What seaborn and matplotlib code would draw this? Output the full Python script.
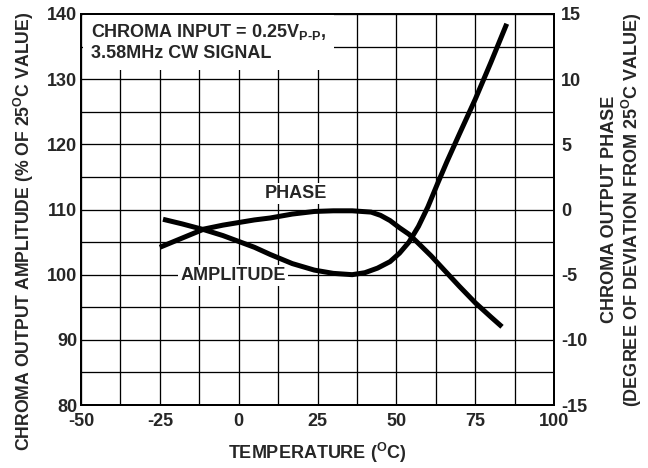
import numpy as np
import pandas as pd
import matplotlib
matplotlib.use("Agg")
import matplotlib.pyplot as plt
import seaborn as sns

# 데이터
amp_temp = [-24, -18, -11, -5, 0, 5, 10, 17, 24, 30, 36, 40, 44, 48, 51, 54, 57, 60, 63, 66,
            70, 75, 80, 85]
amp_value = [108.5, 107.8, 106.9, 106.0, 105.1, 104.2, 103.1, 101.7, 100.7, 100.2, 100.0,
             100.3, 101.0, 102.0, 103.3, 105.0, 107.4, 110.4, 113.9, 117.3,
             121.6, 126.9, 132.6, 138.5]

phase_temp = [-25, -18, -11, -5, 0, 5, 10, 17, 24, 30, 36, 42, 45, 48, 51, 54, 57, 61,
              65, 70, 75, 80, 83.5]
phase_value = [-2.9, -2.2, -1.5, -1.2, -1.0, -0.8, -0.65, -0.35, -0.15, -0.1, -0.1,
               -0.2, -0.45, -0.85, -1.4, -1.9, -2.6, -3.55,
               -4.6, -5.9, -7.15, -8.25, -9.0]

x_ticks = [-50, -25, 0, 25, 50, 75, 100]
left_ticks = [80, 90, 100, 110, 120, 130, 140]
right_ticks = [-15, -10, -5, 0, 5, 10, 15]

df_amp = pd.DataFrame({"temp": amp_temp, "value": amp_value})
df_phase = pd.DataFrame({"temp": phase_temp, "value": phase_value})

sns.set_style("white")
plt.rcParams['font.family'] = ['Liberation Sans', 'DejaVu Sans']
plt.rcParams['font.weight'] = 'bold'
plt.rcParams['axes.unicode_minus'] = False
plt.rcParams['mathtext.fontset'] = 'custom'
plt.rcParams['mathtext.rm'] = 'Liberation Sans:bold'
plt.rcParams['mathtext.bf'] = 'Liberation Sans:bold'
plt.rcParams['mathtext.it'] = 'Liberation Sans:bold'

fs = 18
fig = plt.figure(figsize=(9, 6.5), dpi=72)
ax = fig.add_axes([0.125, 0.1346, 0.73, 0.8355])
ax2 = ax.twinx()

# 그리드
ax.set_xlim(-50, 100)
ax.set_ylim(80, 140)
ax.set_xticks(np.arange(-50, 100.1, 12.5), minor=True)
ax.set_yticks(np.arange(80, 140.1, 5), minor=True)
ax.set_xticks(x_ticks)
ax.set_yticks(left_ticks)
ax.grid(which='both', color='black', linewidth=1.3)
ax.tick_params(which='both', length=0, labelsize=fs)
ax.tick_params(axis='x', pad=8)
ax.tick_params(axis='y', pad=4)
ax.set_axisbelow(True)

sns.lineplot(data=df_amp, x="temp", y="value", ax=ax, color='black', linewidth=5,
             solid_capstyle='butt', zorder=5)

ax2.set_ylim(-15, 15)
ax2.set_yticks(right_ticks)
ax2.tick_params(length=0, labelsize=fs, pad=7)
sns.lineplot(data=df_phase, x="temp", y="value", ax=ax2, color='black', linewidth=5,
             solid_capstyle='butt', zorder=5)

for a in (ax, ax2):
    for s in a.spines.values():
        s.set_color('black')
        s.set_linewidth(2)
    for lab in a.get_xticklabels() + a.get_yticklabels():
        lab.set_fontweight('bold')

ax.set_xlabel(r"TEMPERATURE ($^{\mathrm{O}}$C)", fontsize=fs, fontweight='bold', labelpad=11)
ax.set_ylabel(r"CHROMA OUTPUT AMPLITUDE (% OF 25$^{\mathrm{O}}$C VALUE)", fontsize=17.6,
              fontweight='bold', labelpad=11)
ax.yaxis.label.set_y(0.445)
ax2.set_ylabel("CHROMA OUTPUT PHASE\n" + r"(DEGREE OF DEVIATION FROM 25$^{\mathrm{O}}$C VALUE)",
               fontsize=fs, fontweight='bold', labelpad=14, rotation=90, linespacing=1.1)

# 라벨
bbox = dict(facecolor='white', edgecolor='none', pad=2)
ax.text(18, 112.5, "PHASE", fontsize=fs, fontweight='bold', ha='center', va='center',
        bbox=bbox, zorder=3)
ax.text(-1.8, 99.8, "AMPLITUDE", fontsize=fs, fontweight='bold', ha='center', va='center',
        bbox=bbox, zorder=3)
ax.text(-46.8, 138.8, r"CHROMA INPUT = 0.25V$_{\mathrm{P\text{-}P}}$," + "\n3.58MHz CW SIGNAL",
        fontsize=fs, fontweight='bold', ha='left', va='top', linespacing=1.25,
        bbox=dict(facecolor='white', edgecolor='none', pad=8), zorder=3)

fig.savefig("out.png", dpi=72)
